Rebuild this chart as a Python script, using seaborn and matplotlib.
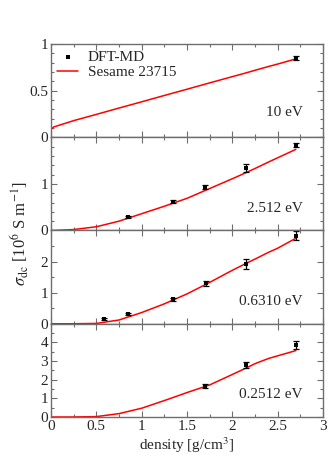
import numpy as np
import pandas as pd
import matplotlib
matplotlib.use("Agg")
import matplotlib.pyplot as plt
import seaborn as sns
from matplotlib.ticker import MultipleLocator, FormatStrFormatter

# Sesame 23715 curves (density, sigma)
ses_x = [0, 0.03, 0.25, 0.5, 0.75, 1.0, 1.25, 1.5, 1.75, 2.0, 2.15, 2.25, 2.4, 2.5, 2.7]
ses_10 = [0.085, 0.11, 0.178, 0.245, 0.313, 0.38, 0.448, 0.515, 0.583, 0.65, 0.69, 0.718, 0.759, 0.785, 0.84]
ses_2512 = [0, 0.0, 0.02, 0.08, 0.2, 0.36, 0.52, 0.69, 0.9, 1.11, 1.24, 1.33, 1.47, 1.56, 1.74]
ses_0631 = [0, 0, 0, 0.01, 0.12, 0.36, 0.64, 0.96, 1.33, 1.72, 1.94, 2.08, 2.3, 2.43, 2.75]
ses_02512 = [0, 0, 0, 0.02, 0.18, 0.47, 0.88, 1.31, 1.72, 2.28, 2.62, 2.86, 3.14, 3.28, 3.56]

# DFT-MD points
dft_x_10 = [2.7]
dft_y_10 = [0.85]
dft_e_10 = [0.02]
dft_x_2512 = [0.85, 1.35, 1.7, 2.15, 2.7]
dft_y_2512 = [0.29, 0.62, 0.93, 1.34, 1.83]
dft_e_2512 = [0.02, 0.03, 0.05, 0.08, 0.05]
dft_x_0631 = [0.58, 0.85, 1.35, 1.71, 2.15, 2.7]
dft_y_0631 = [0.15, 0.32, 0.79, 1.30, 1.92, 2.83]
dft_e_0631 = [0.03, 0.03, 0.05, 0.08, 0.15, 0.15]
dft_x_02512 = [1.7, 2.15, 2.7]
dft_y_02512 = [1.67, 2.78, 3.87]
dft_e_02512 = [0.1, 0.15, 0.2]

labels = ["10 eV", "2.512 eV", "0.6310 eV", "0.2512 eV"]
ylims = [1, 2, 3, 5]
yticks = [[0, 0.5, 1], [0, 1], [0, 1, 2], [0, 1, 2, 3, 4]]
yticklabels = [['0', '0.5', '1'], ['0', '1'], ['0', '1', '2'], ['0', '1', '2', '3', '4']]
yminor = [0.1, 0.2, 0.5, 0.5]

sns.set_style("ticks")
plt.rcParams['font.family'] = ['Liberation Serif', 'DejaVu Serif']
plt.rcParams['mathtext.fontset'] = 'stix'

frame = '#6e6e6e'
fig, axes = plt.subplots(4, 1, figsize=(3.31, 4.68), dpi=100, sharex=True)
fig.subplots_adjust(left=0.154, right=0.976, top=0.906, bottom=0.109, hspace=0)

curves = [ses_10, ses_2512, ses_0631, ses_02512]
pts = [(dft_x_10, dft_y_10, dft_e_10), (dft_x_2512, dft_y_2512, dft_e_2512),
       (dft_x_0631, dft_y_0631, dft_e_0631), (dft_x_02512, dft_y_02512, dft_e_02512)]

for i, ax in enumerate(axes):
    df = pd.DataFrame({'x': ses_x, 'y': curves[i]})
    sns.lineplot(data=df, x='x', y='y', ax=ax, color='red', lw=1.1,
                 label='Sesame 23715' if i == 0 else None, legend=False)
    px, py, pe = pts[i]
    ax.errorbar(px, py, yerr=pe, fmt='none', ecolor='black', elinewidth=0.9,
                capsize=2.5, capthick=0.9)
    sns.scatterplot(x=px, y=py, ax=ax, marker='s', color='black', s=12,
                    edgecolor='black', linewidth=0, zorder=5,
                    label='DFT-MD' if i == 0 else None, legend=False)
    ax.set_xlim(0, 3)
    ax.set_ylim(0, ylims[i])
    ax.set_yticks(yticks[i])
    ax.set_yticklabels(yticklabels[i])
    ax.yaxis.set_minor_locator(MultipleLocator(yminor[i]))
    ax.xaxis.set_major_locator(MultipleLocator(0.5))
    ax.xaxis.set_minor_locator(MultipleLocator(0.25))
    ax.tick_params(which='both', direction='in', top=True, right=True, color=frame,
                   labelsize=11, pad=2)
    ax.tick_params(which='major', length=4, width=0.8)
    ax.tick_params(which='minor', length=2, width=0.8)
    for s in ax.spines.values():
        s.set_color(frame)
        s.set_linewidth(1.0)
    ax.set_xlabel('')
    ax.set_ylabel('')
    ax.text(0.925, 0.26 if i == 0 else 0.24, labels[i], transform=ax.transAxes,
            ha='right', va='center', fontsize=11)

ax0 = axes[0]
h, l = ax0.get_legend_handles_labels()
order = [l.index('DFT-MD'), l.index('Sesame 23715')]
ax0.legend([h[j] for j in order], [l[j] for j in order], loc='upper left',
           frameon=False, fontsize=11, handlelength=1.4, handletextpad=0.6,
           borderaxespad=0.1, labelspacing=0.1, borderpad=0.3)

axes[-1].set_xticks([0, 0.5, 1, 1.5, 2, 2.5, 3])
axes[-1].set_xticklabels(['0', '0.5', '1', '1.5', '2', '2.5', '3'])
axes[-1].set_xlabel('density [g/cm$^3$]', fontsize=11, labelpad=2)
fig.text(0.06, 0.5, r'$\sigma_{\rm dc}$ [10$^6$ S m$^{-1}$]', rotation=90,
         ha='center', va='center', fontsize=12)

fig.savefig('out.png', dpi=100)
